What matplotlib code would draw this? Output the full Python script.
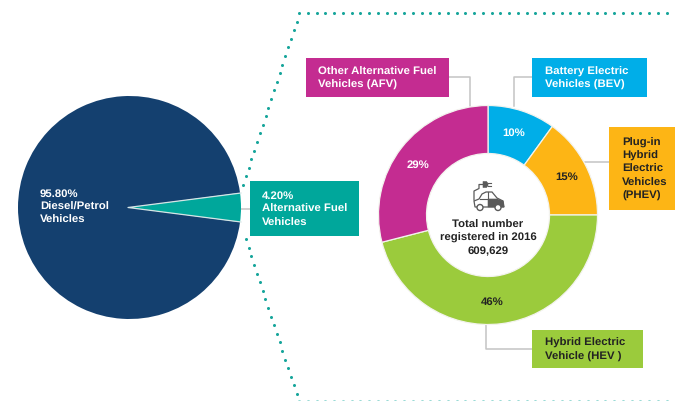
import numpy as np
import matplotlib
matplotlib.use("Agg")
import matplotlib.pyplot as plt
from matplotlib.patches import Rectangle, Circle, Polygon

plt.rcParams['font.family'] = ['Liberation Sans', 'DejaVu Sans']
plt.rcParams['text.hinting'] = 'no_hinting'

main_labels = ["Alternative Fuel Vehicles", "Diesel/Petrol Vehicles"]
main_values = [4.2, 95.8]
main_colors = ["#00A79B", "#14406F"]

afv_labels = ["BEV", "PHEV", "HEV", "AFV"]
afv_values = [10, 15, 46, 29]
afv_pct = ["10%", "15%", "46%", "29%"]
afv_colors = ["#00AEE8", "#FDB515", "#9BCB3C", "#C42C91"]
afv_text = ["white", "#222222", "#222222", "white"]

W, H = 675, 402
fig = plt.figure(figsize=(6.75, 4.02), dpi=100)
ax = fig.add_axes([0, 0, 1, 1])
Y = lambda p: H - p
FS = 8.2
LS = 1.38
GRAY = "#C4C4C4"
DOT = "#17A59B"


def dotted(x0, y0, x1, y1, step=8.75, color=DOT, ms=2.2):
    n = int(np.hypot(x1 - x0, y1 - y0) / step) + 1
    t = np.arange(n) * step / np.hypot(x1 - x0, y1 - y0)
    ax.plot(x0 + (x1 - x0) * t, Y(y0 + (y1 - y0) * t), ls="none", marker="o",
            ms=ms, mfc=color, mec="none", zorder=1)


# dotted frame
dotted(299, 14, 675, 14)
dotted(296.5, 22.5, 243, 186, step=9.05)
dotted(296.5, 395, 243, 232, step=9.05)
dotted(299, 401.5, 675, 401.5, color="#9ADBD6")

# connectors
for xs, ys in [([449, 470, 470], [78, 78, 107]),
               ([532, 514, 514], [78, 78, 107]),
               ([609, 585], [163, 163]),
               ([486, 486, 532], [326, 350, 350]),
               ([241, 250], [210, 210])]:
    ax.plot(xs, [Y(v) for v in ys], color=GRAY, lw=1.1, zorder=1)

# main pie
ax.pie(main_values, colors=main_colors, startangle=-7.56, center=(129.5, Y(208.5)),
       radius=111.5, wedgeprops=dict(linewidth=0.0), frame=True)
ax.plot([241, 128, 241], [Y(194), Y(208.5), Y(223)], color="#D5E6E6", lw=0.9, zorder=3)

# donut
wedges, _ = ax.pie(afv_values, colors=afv_colors, startangle=90, counterclock=False,
                   center=(488, Y(216)), radius=109.5, frame=True,
                   wedgeprops=dict(width=48, edgecolor="#F3F3EE", linewidth=0.9))
for pct, c, (x, y) in zip(afv_pct, afv_text,
                          [(514, 133), (567, 177.5), (492, 302), (418, 165.5)]):
    ax.text(x, Y(y), pct, color=c, fontsize=FS, fontweight="bold", ha="center", va="center", zorder=5)

# boxes
boxes = [
    (306, 59, 449, 98, "#C42C91", "Other Alternative Fuel\nVehicles (AFV)", "white", 318),
    (532, 59, 647, 98, "#00AEE8", "Battery Electric\nVehicles (BEV)", "white", 545),
    (609, 128, 675, 211, "#FDB515", "Plug-in\nHybrid\nElectric\nVehicles\n(PHEV)", "#222222", 622),
    (532, 331, 643, 369, "#9BCB3C", "Hybrid Electric\nVehicle (HEV )", "#222222", 545),
    (250, 182, 359, 237, "#00A79B", "4.20%\nAlternative Fuel\nVehicles", "white", 262),
]
for x0, y0, x1, y1, col, txt, tc, tx in boxes:
    ax.add_patch(Rectangle((x0, Y(y1)), x1 - x0, y1 - y0, fc=col, ec="none", zorder=4))
    ax.text(tx, Y((y0 + y1) / 2), txt, color=tc, fontsize=FS, fontweight="bold",
            ha="left", va="center", linespacing=LS, zorder=5)

ax.text(40, Y(207), "95.80%\nDiesel/Petrol\nVehicles", color="white", fontsize=FS,
        fontweight="bold", ha="left", va="center", linespacing=LS, zorder=5)
ax.text(488, Y(238), "Total number\nregistered in 2016\n609,629", color="#222222", fontsize=FS,
        fontweight="bold", ha="center", va="center", linespacing=LS, zorder=5)

# centre icon: car with plug
G = "#5A5A5A"
P = lambda pts: [(x, Y(y)) for x, y in pts]
body = [(475, 208), (474, 202), (479, 200), (482, 195), (486, 193), (492, 193), (497, 199), (503, 202), (504, 208)]
ax.add_patch(Polygon(P(body), closed=True, fc="white", ec=G, lw=0.9, zorder=5))
dark = [(488, 200), (497, 200), (503, 202), (504, 208), (488, 208)]
ax.add_patch(Polygon(P(dark), closed=True, fc=G, ec=G, lw=0.4, zorder=5))
ax.plot([480, 497], [Y(200), Y(200)], color=G, lw=0.8, zorder=6)
ax.plot([488, 488], [Y(193), Y(200)], color=G, lw=0.8, zorder=6)
for cx in (480, 498):
    ax.add_patch(Circle((cx, Y(208.5)), 3.0, fc="white", ec=G, lw=1.0, zorder=6))
ax.plot([474, 474, 479, 479, 483], [Y(201), Y(192), Y(189.5), Y(185.5), Y(185.5)], color=G, lw=0.9, zorder=5)
ax.add_patch(Polygon(P([(483, 182.5), (486.5, 182.5), (488, 184.5), (488, 186.5), (486.5, 188.5), (483, 188.5)]),
                     closed=True, fc=G, ec=G, lw=0.4, zorder=5))
ax.plot([488, 491], [Y(184), Y(184)], color=G, lw=0.8, zorder=5)
ax.plot([488, 491], [Y(187), Y(187)], color=G, lw=0.8, zorder=5)

ax.set_xlim(0, W)
ax.set_ylim(0, H)
ax.set_aspect("auto")
ax.axis("off")
fig.savefig("out.png", dpi=100, facecolor="white")
